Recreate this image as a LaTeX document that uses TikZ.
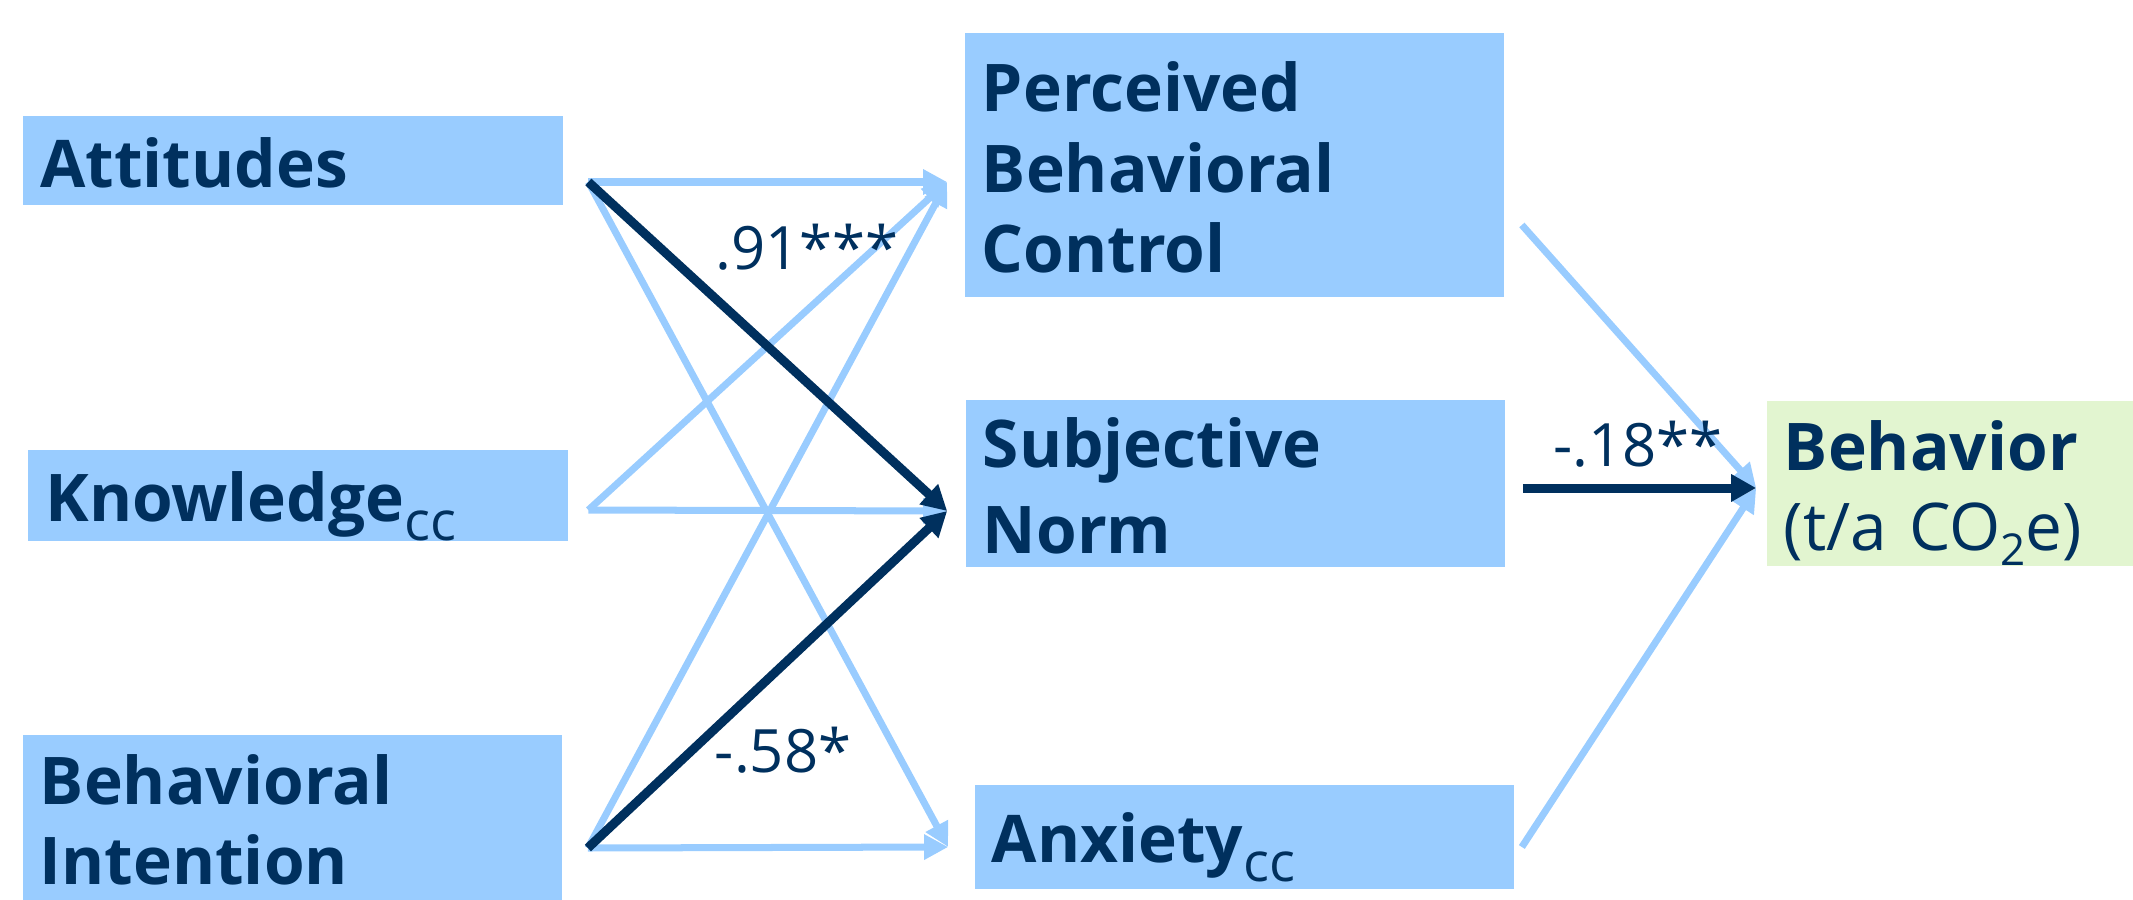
\documentclass[tikz,border=0pt]{standalone}
\usepackage{fontspec}
\setmainfont{Open Sans}
\usepackage{xcolor}
\usepackage{tikz}
\usetikzlibrary{arrows.meta,calc}
\definecolor{tpbblue}{RGB}{153,204,255}
\definecolor{tpbnavy}{RGB}{0,48,94}
\definecolor{tpbgreen}{RGB}{226,245,208}
\newcommand{\bxfont}{\fontsize{18.7pt}{0.8cm}\selectfont\bfseries}
\newcommand{\lblfont}{\fontsize{17pt}{20pt}\selectfont}
\newcommand{\bxstrut}{\rule[-0.13cm]{0pt}{0.8cm}}
\newcommand{\ccsub}{\raisebox{-0.19cm}[0pt][0pt]{\fontsize{15.5pt}{16pt}\selectfont\mdseries cc}}
\newcommand{\twosub}{\raisebox{-0.15cm}[0pt][0pt]{\fontsize{12.5pt}{13pt}\selectfont 2}}

\begin{document}
\begin{tikzpicture}[
  x=0.01cm, y=-0.01cm,
  box/.style={rectangle, fill=tpbblue, inner xsep=0.17cm, inner ysep=0pt, align=left,
    text=tpbnavy, font=\bxfont, text width=5.05cm,
    execute at begin node=\bxstrut, execute at end node=\bxstrut},
  lbl/.style={inner sep=0pt, font=\lblfont, text=tpbnavy},
  >={Triangle[length=0.24cm, width=0.24cm]},
  arrlight/.style={->, line width=0.07cm, draw=tpbblue},
  arrdark/.style={->, line width=0.09cm, draw=tpbnavy,
    >={Triangle[length=0.25cm, width=0.26cm]}},
]
\useasboundingbox (0,0) rectangle (2133,900);

% ============ Predictors (left) ============
\node[box, minimum height=0.89cm] (att) at (293,160.5) {Attitudes};
\node[box, minimum height=0.91cm] (know) at (298,495.5) {Knowledge\ccsub};
\node[box, minimum height=1.65cm] (intent) at (292.5,817.5) {Behavioral\\Intention};

% ============ Mediators (middle) ============
\node[box, minimum height=2.64cm] (pbc) at (1234.5,165) {Perceived\\Behavioral\\Control};
\node[box, minimum height=1.65cm] (norm) at (1235.5,483.5) {Subjective\\Norm};
\node[box, minimum height=1.04cm] (anx) at (1244.5,837) {Anxiety\ccsub};

% ============ Outcome (right) ============
\node[box, fill=tpbgreen, text width=3.32cm, minimum height=1.65cm] (behav) at (1950,483.5)
  {Behavior\\{\mdseries (t/a CO\twosub e)}};

% ============ Connector ends ============
\coordinate (attout) at ($(att.east)+(25,21.5)$);
\coordinate (knowout) at ($(know.east)+(20,14.5)$);
\coordinate (intentout) at ($(intent.east)+(25,30.5)$);
\coordinate (pbcin) at ($(pbc.west)+(-17,17)$);
\coordinate (normin) at ($(norm.west)+(-18,27.5)$);
\coordinate (anxin) at ($(anx.west)+(-26,10)$);
\coordinate (pbcout) at ($(pbc.east)+(17,60)$);
\coordinate (normout) at ($(norm.east)+(17,4.5)$);
\coordinate (anxout) at ($(anx.east)+(7,10)$);
\coordinate (behavin) at ($(behav.west)+(-10,4.5)$);

% ===================== ARROWS =====================

% non-significant paths
\draw[arrlight] (attout) -- (pbcin);
\draw[arrlight] (attout) -- (anxin);
\draw[arrlight] (knowout) -- (pbcin);
\draw[arrlight] (knowout) -- (normin);
\draw[arrlight] (intentout) -- (pbcin);
\draw[arrlight] (intentout) -- (anxin);
\draw[arrlight] (pbcout) -- (behavin);
\draw[arrlight] (anxout) -- (behavin);

% significant paths
\draw[arrdark] (attout) -- (normin);
\draw[arrdark] (intentout) -- (normin);
\draw[arrdark] (normout) -- (behavin);

% ============ Path coefficients ============
\node[lbl] (coefatt) at (807,247) {.91***};
\node[lbl] (coefintent) at (783,750) {-.58*};
\node[lbl] (coefnorm) at (1638,444) {-.18**};

\end{tikzpicture}
\end{document}
